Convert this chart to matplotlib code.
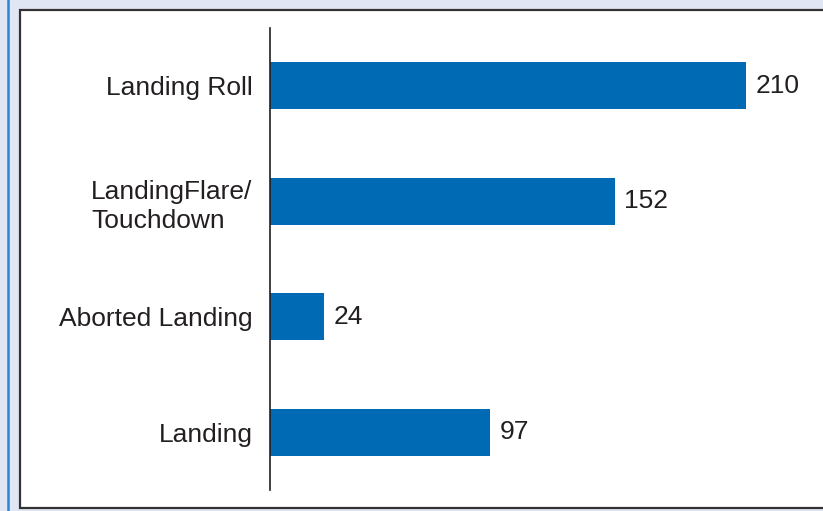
import matplotlib.pyplot as plt
from matplotlib.patches import Rectangle

plt.rcParams['font.family'] = ['Liberation Sans', 'DejaVu Sans']

categories = ["Landing", "Aborted Landing", "LandingFlare/\nTouchdown", "Landing Roll"]
values = [97, 24, 152, 210]

fig = plt.figure(figsize=(8.23, 5.11), dpi=100)
fig.patch.set_facecolor("#e0e6f4")

# white panel with dark border, and blue rule on the far left
W, H = 823, 511
fig.patches.append(Rectangle((20 / W, 3 / H), 830 / W, 498 / H, transform=fig.transFigure,
                             facecolor="white", edgecolor="#333333", linewidth=1.6, zorder=-5))
fig.add_artist(plt.Line2D([8 / W, 8 / W], [0, 1], transform=fig.transFigure,
                          color="#2a86d6", linewidth=1.8, zorder=-4))

ax = fig.add_axes([270 / W, 21 / H, 550 / W, 462 / H])
ax.set_zorder(5)
ax.patch.set_alpha(0)
ax.barh(range(len(values)), values, height=0.41, color="#006ab5")
for i, v in enumerate(values):
    ax.text(v + 4.2, i, str(v), va="center", ha="left", fontsize=19, color="#231f20")

ax.set_xlim(0, 550 / 2.267)
ax.set_ylim(-0.5, 3.5)
ax.set_yticks(range(len(categories)))
ax.set_yticklabels(categories, fontsize=19, color="#231f20", multialignment="left",
                   linespacing=1.3)
ax.tick_params(axis="y", length=0, pad=12.5)
ax.set_xticks([])
for s in ["top", "right", "bottom"]:
    ax.spines[s].set_visible(False)
ax.spines["left"].set_color("#231f20")
ax.spines["left"].set_linewidth(1.2)

fig.savefig("out.png", dpi=100, facecolor=fig.get_facecolor())
